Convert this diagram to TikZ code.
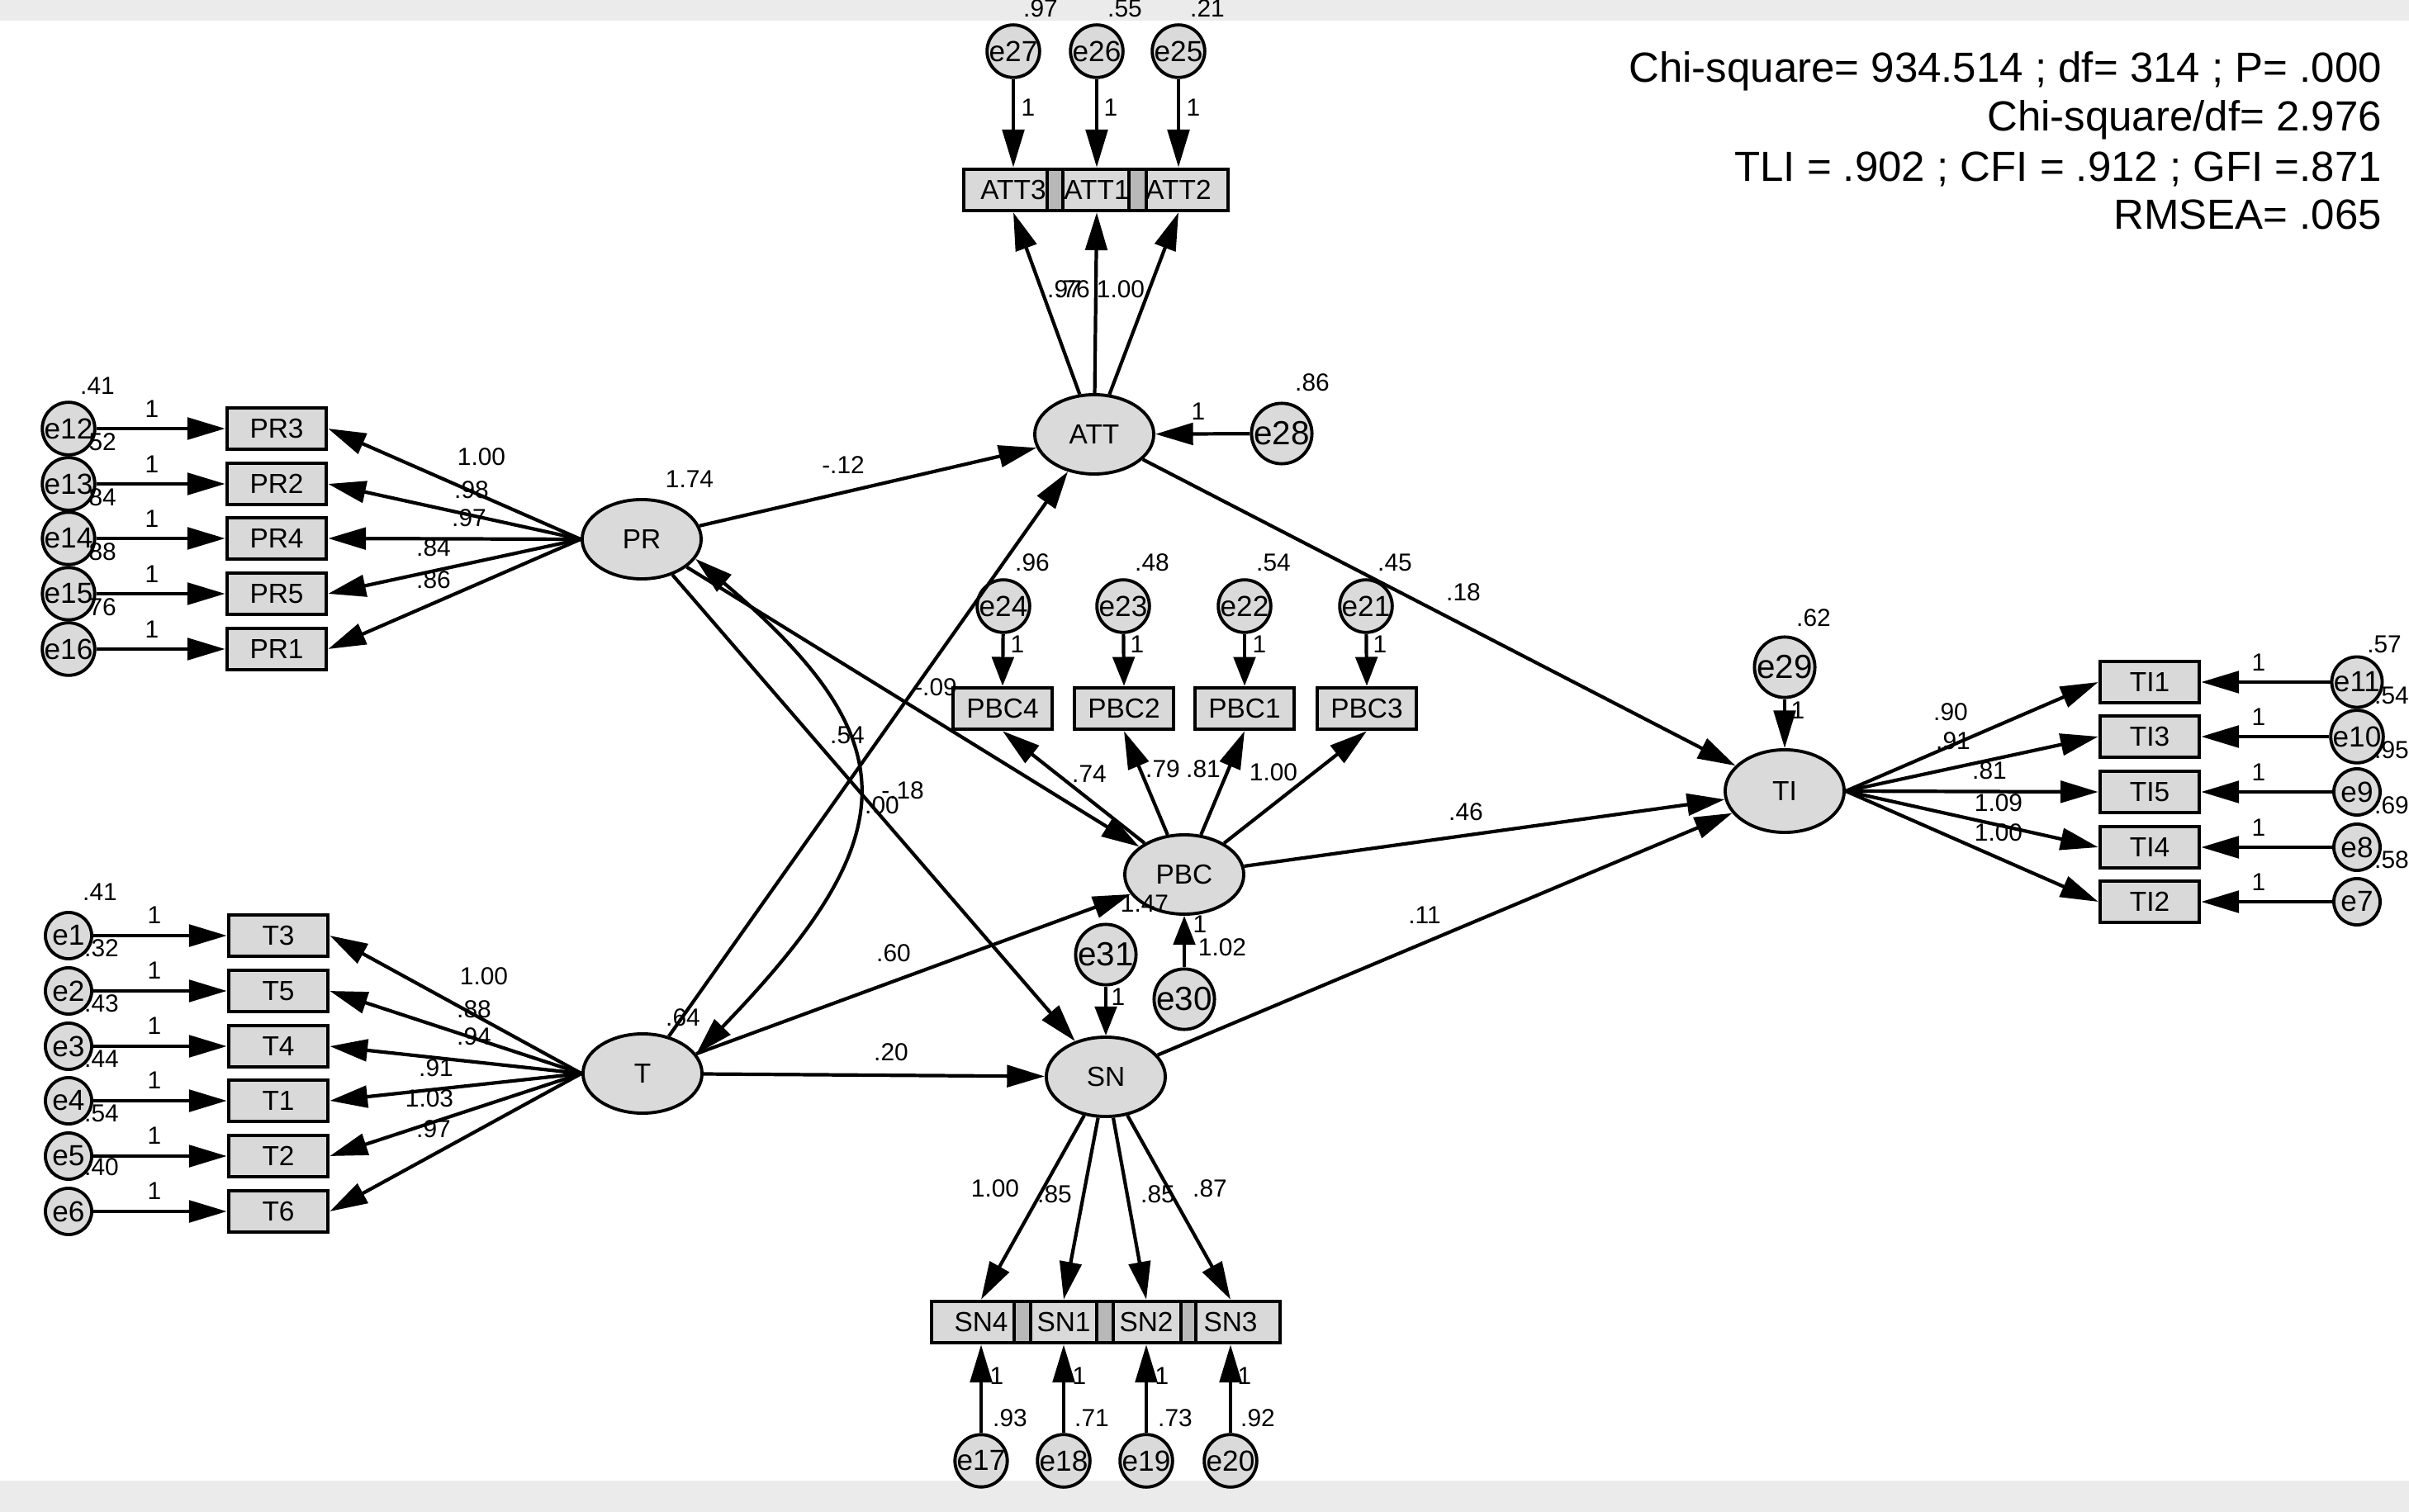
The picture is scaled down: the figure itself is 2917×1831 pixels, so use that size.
\documentclass[tikz,border=0pt]{standalone}
\usepackage{fontspec}
\setmainfont{Liberation Sans}
\usetikzlibrary{arrows.meta,shapes.geometric}
\definecolor{latfill}{RGB}{218,218,218}
\definecolor{bandgray}{RGB}{235,235,235}
\begin{document}
\begin{tikzpicture}[x=0.01cm,y=-0.01cm,line width=1.2pt,
  >={Triangle[length=13pt,width=7.5pt]},
  lat/.style={ellipse,draw,line width=1.1pt,fill=latfill,minimum width=1.44cm,minimum height=0.96cm,inner sep=0pt,font=\fontsize{9.5}{11}\selectfont},
  obs/.style={rectangle,draw,line width=1.3pt,fill=black,fill opacity=0.15,text opacity=1,minimum width=1.2cm,minimum height=0.5cm,inner sep=0pt,font=\fontsize{9.5}{11}\selectfont},
  err/.style={circle,draw,line width=1.1pt,fill=latfill,minimum size=0.56cm,inner sep=0pt,font=\fontsize{10}{12}\selectfont},
  errbig/.style={circle,draw,line width=1.1pt,fill=latfill,minimum size=0.72cm,inner sep=0pt,font=\fontsize{11.5}{13}\selectfont},
  lbl/.style={inner sep=0pt,font=\fontsize{8.5}{10}\selectfont},
  fit/.style={inner sep=0pt,anchor=base east,font=\fontsize{14.5}{17}\selectfont},
  arr/.style={->,line width=1.2pt},
  sarr/.style={-{Triangle[length=10pt,width=7.5pt]},line width=1.2pt}
]
\useasboundingbox (0,0) rectangle (2917,1831);
\fill[white] (0,0) rectangle (2917,1831);
\fill[bandgray] (0,0) rectangle (2917,25);
\fill[bandgray] (0,1793) rectangle (2917,1831);

% latent variables
\node[lat] (ATT) at (1325,526) {ATT};
\node[lat] (PR) at (777,653) {PR};
\node[lat] (T) at (778,1300) {T};
\node[lat] (PBC) at (1434,1059) {PBC};
\node[lat] (SN) at (1339,1304) {SN};
\node[lat,minimum height=1.0cm] (TI) at (2161,958) {TI};

% disturbances
\node[errbig] (e28) at (1552,525) {e28};
\node[errbig] (e29) at (2161,808) {e29};
\node[errbig] (e30) at (1434,1210) {e30};
\node[errbig] (e31) at (1339,1156) {e31};

% ATT indicators
\node[obs] (ATT3) at (1227,230) {ATT3};
\node[obs] (ATT1) at (1328,230) {ATT1};
\node[obs] (ATT2) at (1427,230) {ATT2};
\node[err] (e27) at (1227,62) {e27};
\node[err] (e26) at (1328,62) {e26};
\node[err] (e25) at (1427,62) {e25};

% PBC indicators
\node[obs] (PBC4) at (1214,858) {PBC4};
\node[obs] (PBC2) at (1361,858) {PBC2};
\node[obs] (PBC1) at (1507,858) {PBC1};
\node[obs] (PBC3) at (1655,858) {PBC3};
\node[err] (e24) at (1215,734) {e24};
\node[err] (e23) at (1360,734) {e23};
\node[err] (e22) at (1507,734) {e22};
\node[err] (e21) at (1654,734) {e21};

% SN indicators
\node[obs] (SN4) at (1188,1601) {SN4};
\node[obs] (SN1) at (1288,1601) {SN1};
\node[obs] (SN2) at (1388,1601) {SN2};
\node[obs] (SN3) at (1490,1601) {SN3};
\node[err] (e17) at (1188,1769) {e17};
\node[err] (e18) at (1288,1769) {e18};
\node[err] (e19) at (1388,1769) {e19};
\node[err] (e20) at (1490,1769) {e20};

% PR indicators
\node[obs] (PR3) at (335,519) {PR3};
\node[obs] (PR2) at (335,586) {PR2};
\node[obs] (PR4) at (335,652) {PR4};
\node[obs] (PR5) at (335,719) {PR5};
\node[obs] (PR1) at (335,786) {PR1};
\node[err] (e12) at (83,519) {e12};
\node[err] (e13) at (83,586) {e13};
\node[err] (e14) at (83,652) {e14};
\node[err] (e15) at (83,719) {e15};
\node[err] (e16) at (83,786) {e16};

% T indicators
\node[obs] (T3) at (337,1133) {T3};
\node[obs] (T5) at (337,1200) {T5};
\node[obs] (T4) at (337,1267) {T4};
\node[obs] (T1) at (337,1333) {T1};
\node[obs] (T2) at (337,1400) {T2};
\node[obs] (T6) at (337,1467) {T6};
\node[err] (e1) at (83,1133) {e1};
\node[err] (e2) at (83,1200) {e2};
\node[err] (e3) at (83,1267) {e3};
\node[err] (e4) at (83,1333) {e4};
\node[err] (e5) at (83,1400) {e5};
\node[err] (e6) at (83,1467) {e6};

% TI indicators
\node[obs] (TI1) at (2603,826) {TI1};
\node[obs] (TI3) at (2603,892) {TI3};
\node[obs] (TI5) at (2603,959) {TI5};
\node[obs] (TI4) at (2603,1026) {TI4};
\node[obs] (TI2) at (2603,1092) {TI2};
\node[err] (e11) at (2854,826) {e11};
\node[err] (e10) at (2854,892) {e10};
\node[err] (e9) at (2854,959) {e9};
\node[err] (e8) at (2854,1026) {e8};
\node[err] (e7) at (2854,1092) {e7};

% measurement arrows
\foreach \b/\e in {ATT3/e27,ATT1/e26,ATT2/e25} {
  \draw[arr] (\e) -- (\b.north);
  \draw[arr] (ATT) -- (\b.south);
}
\foreach \b/\e in {PBC4/e24,PBC2/e23,PBC1/e22,PBC3/e21} {
  \draw[sarr] (\e) -- (\b.north);
  \draw[arr] (PBC) -- (\b.south);
}
\foreach \b/\e in {SN4/e17,SN1/e18,SN2/e19,SN3/e20} {
  \draw[arr] (\e) -- (\b.south);
  \draw[arr] (SN) -- (\b.north);
}
\foreach \b/\e in {PR3/e12,PR2/e13,PR4/e14,PR5/e15,PR1/e16} {
  \draw[arr] (\e) -- (\b.west);
  \draw[arr] (PR.west) -- (\b.east);
}
\foreach \b/\e in {T3/e1,T5/e2,T4/e3,T1/e4,T2/e5,T6/e6} {
  \draw[arr] (\e) -- (\b.west);
  \draw[arr] (T.west) -- (\b.east);
}
\foreach \b/\e in {TI1/e11,TI3/e10,TI5/e9,TI4/e8,TI2/e7} {
  \draw[arr] (\e) -- (\b.east);
  \draw[arr] (TI.east) -- (\b.west);
}

% disturbance arrows
\draw[arr] (e28) -- (ATT);
\draw[arr] (e29) -- (TI);
\draw[sarr] (e30) -- (PBC);
\draw[sarr] (e31) -- (SN);

% structural paths
\draw[arr] (PR) -- (ATT);
\draw[arr] (PR) -- (PBC);
\draw[arr] (PR) -- (SN);
\draw[arr] (T) -- (ATT);
\draw[arr] (T) -- (PBC);
\draw[arr] (T) -- (SN);
\draw[arr] (ATT) -- (TI);
\draw[arr] (PBC) -- (TI);
\draw[arr] (SN) -- (TI);
\draw[<->] (PR.-20) .. controls (1100,896) and (1100,1011) .. (T.20);

% fit indices
\node[fit] at (2886,100) {Chi-square= 934.514 ; df= 314 ; P= .000};
\node[fit] at (2886,159) {Chi-square/df= 2.976};
\node[fit] at (2886,220) {TLI = .902 ; CFI = .912 ; GFI =.871};
\node[fit] at (2886,278) {RMSEA= .065};

% ATT labels
\node[lbl] at (1260,10) {.97};
\node[lbl] at (1362,10) {.55};
\node[lbl] at (1462,10) {.21};
\node[lbl] at (1245,130) {1};
\node[lbl] at (1345,130) {1};
\node[lbl] at (1445,130) {1};
\node[lbl] at (1289,350) {.97};
\node[lbl] at (1299,350) {.76};
\node[lbl] at (1357,350) {1.00};
\node[lbl] at (1589,463) {.86};
\node[lbl] at (1451,498) {1};

% PBC labels
\node[lbl] at (1250,681) {.96};
\node[lbl] at (1395,681) {.48};
\node[lbl] at (1542,681) {.54};
\node[lbl] at (1689,681) {.45};
\node[lbl] at (1772,717) {.18};
\node[lbl] at (1232,780) {1};
\node[lbl] at (1377,780) {1};
\node[lbl] at (1525,780) {1};
\node[lbl] at (1671,780) {1};
\node[lbl] at (1319,937) {.74};
\node[lbl] at (1408,931) {.79};
\node[lbl] at (1457,931) {.81};
\node[lbl] at (1542,935) {1.00};
\node[lbl] at (1386,1094) {1.47};
\node[lbl] at (1453,1119) {1};
\node[lbl] at (1480,1147) {1.02};
\node[lbl] at (1354,1207) {1};

% structural labels
\node[lbl] at (1021,563) {-.12};
\node[lbl] at (835,580) {1.74};
\node[lbl] at (1026,890) {.54};
\node[lbl] at (1133,832) {-.09};
\node[lbl] at (1093,957) {-.18};
\node[lbl] at (1068,975) {.00};
\node[lbl] at (1082,1154) {.60};
\node[lbl] at (827,1232) {.64};
\node[lbl] at (1079,1274) {.20};
\node[lbl] at (1775,983) {.46};
\node[lbl] at (1725,1108) {.11};
\node[lbl] at (2196,748) {.62};
\node[lbl] at (2177,860) {1};

% SN labels
\node[lbl] at (1205,1439) {1.00};
\node[lbl] at (1277,1446) {.85};
\node[lbl] at (1402,1446) {.85};
\node[lbl] at (1465,1439) {.87};
\node[lbl] at (1207,1666) {1};
\node[lbl] at (1307,1666) {1};
\node[lbl] at (1407,1666) {1};
\node[lbl] at (1507,1666) {1};
\node[lbl] at (1223,1717) {.93};
\node[lbl] at (1322,1717) {.71};
\node[lbl] at (1423,1717) {.73};
\node[lbl] at (1523,1717) {.92};

% PR labels
\node[lbl] at (118,467) {.41};
\node[lbl] at (120,535) {.52};
\node[lbl] at (120,602) {.84};
\node[lbl] at (120,668) {.88};
\node[lbl] at (120,735) {.76};
\foreach \y in {495,562,628,695,762} \node[lbl] at (184,\y) {1};
\node[lbl] at (583,553) {1.00};
\node[lbl] at (571,593) {.98};
\node[lbl] at (568,627) {.97};
\node[lbl] at (525,663) {.84};
\node[lbl] at (525,702) {.86};

% T labels
\node[lbl] at (121,1080) {.41};
\node[lbl] at (123,1148) {.32};
\node[lbl] at (123,1215) {.43};
\node[lbl] at (123,1282) {.44};
\node[lbl] at (123,1348) {.54};
\node[lbl] at (123,1413) {.40};
\foreach \y in {1108,1175,1242,1308,1375,1442} \node[lbl] at (187,\y) {1};
\node[lbl] at (586,1182) {1.00};
\node[lbl] at (574,1222) {.88};
\node[lbl] at (574,1255) {.94};
\node[lbl] at (528,1293) {.91};
\node[lbl] at (520,1330) {1.03};
\node[lbl] at (525,1367) {.97};

% TI labels
\node[lbl] at (2887,780) {.57};
\node[lbl] at (2896,842) {.54};
\node[lbl] at (2896,908) {.95};
\node[lbl] at (2896,975) {.69};
\node[lbl] at (2896,1041) {.58};
\foreach \y in {802,868,935,1002,1068} \node[lbl] at (2735,\y) {1};
\node[lbl] at (2362,862) {.90};
\node[lbl] at (2365,897) {.91};
\node[lbl] at (2409,933) {.81};
\node[lbl] at (2420,972) {1.09};
\node[lbl] at (2420,1008) {1.00};
\end{tikzpicture}
\end{document}
